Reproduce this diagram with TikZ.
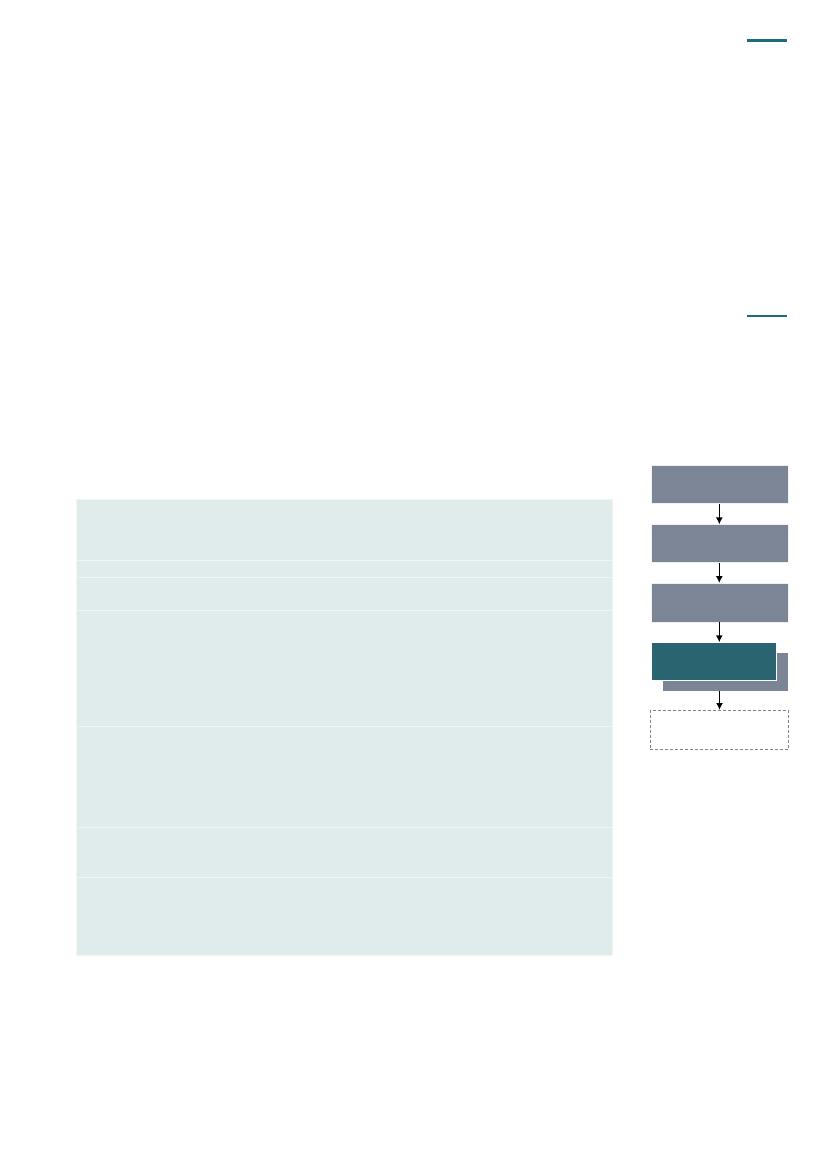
\documentclass[tikz,border=0pt]{standalone}
\usetikzlibrary{arrows.meta}
\definecolor{slate}{HTML}{7B8595}
\definecolor{tealbox}{HTML}{2A6470}
\definecolor{tablefill}{HTML}{E0ECEC}
\definecolor{rule}{HTML}{1A6E7C}
\begin{document}
\begin{tikzpicture}[x=1pt,y=-1pt,
  stepbox/.style={rectangle, inner sep=0pt, fill=slate, draw=white!88!slate, line width=0.6pt},
  activebox/.style={rectangle, inner sep=0pt, fill=tealbox, draw=white, line width=0.8pt},
  shadowbox/.style={rectangle, inner sep=0pt, fill=slate},
  openbox/.style={rectangle, inner sep=0pt, draw=slate, dashed, line width=0.6pt, dash pattern=on 3pt off 2pt},
  flowarrow/.style={-{Latex[length=7pt,width=7pt]}, line width=1.5pt, black},
  rowline/.style={white!45!tablefill, line width=0.7pt}]
\useasboundingbox (0,0) rectangle (827,1169);
\fill[white] (0,0) rectangle (827,1169);
% header rules
\draw[rule, line width=3pt] (747,41) -- (786.5,41);
\draw[rule, line width=1.5pt] (747,315.8) -- (786.5,315.8);
% table
\fill[tablefill] (76,499) rectangle (612,955);
\draw[white!50!tablefill, line width=0.6pt] (76,499) rectangle (612,955);
\foreach \yy in {560,577,610,726,827,877}
  \draw[rowline] (76,\yy) -- (612,\yy);
% flow
\node[stepbox, minimum width=136.3pt, minimum height=38pt] (b1) at (719.8,484.7) {};
\node[stepbox, minimum width=136.3pt, minimum height=38pt] (b2) at (719.8,543.7) {};
\node[stepbox, minimum width=136.3pt, minimum height=38.6pt] (b3) at (719.8,602.7) {};
\node[shadowbox, minimum width=125pt, minimum height=37.7pt] (s4) at (725.5,671.9) {};
\node[activebox, minimum width=124.3pt, minimum height=38pt] (b4) at (713.9,661.7) {};
\node[openbox, minimum width=138.4pt, minimum height=39pt] (b5) at (719.5,729.8) {};
\draw[flowarrow] (b1.south -| 719.3,0) -- (b2.north -| 719.3,0);
\draw[flowarrow] (b2.south -| 719.3,0) -- (b3.north -| 719.3,0);
\draw[flowarrow] (b3.south -| 719.3,0) -- (b4.north -| 719.3,0);
\draw[flowarrow] (s4.south -| b5.north) -- (b5.north);
\end{tikzpicture}
\end{document}
